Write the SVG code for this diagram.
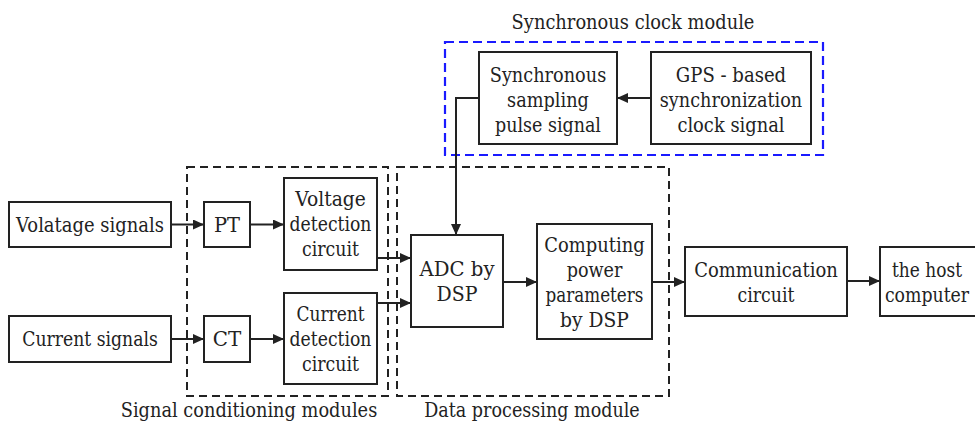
<svg xmlns="http://www.w3.org/2000/svg" width="975" height="424" viewBox="0 0 975 424">
<style>
.box{fill:#fff;stroke:#222;stroke-width:2}
.grp{fill:none;stroke:#222;stroke-width:2;stroke-dasharray:8,5}
.blue{fill:none;stroke:#1a1aff;stroke-width:2.2;stroke-dasharray:9,5}
text{font-family:"DejaVu Serif",serif;font-size:20px;fill:#222;text-anchor:middle}
.con{fill:none;stroke:#222;stroke-width:2;marker-end:url(#ah)}
</style>
<defs>
<marker id="ah" markerUnits="userSpaceOnUse" markerWidth="12" markerHeight="10" refX="11" refY="5" orient="auto">
<path d="M0,0 L11,5 L0,10 z" fill="#222"/>
</marker>
</defs>
<rect width="975" height="424" fill="#fff"/>
<g id="signal-conditioning-group">
<rect class="grp" x="187" y="167" width="201" height="229"/>
<text x="249" y="417" textLength="256.5" lengthAdjust="spacingAndGlyphs">Signal conditioning modules</text>
</g>
<g id="data-processing-group">
<rect class="grp" x="397" y="167" width="272" height="229"/>
<text x="532" y="417" textLength="215.5" lengthAdjust="spacingAndGlyphs">Data processing module</text>
</g>
<g id="sync-clock-group">
<rect class="blue" x="445" y="42" width="378" height="113"/>
<text x="633" y="29" textLength="242.8" lengthAdjust="spacingAndGlyphs">Synchronous clock module</text>
</g>
<g id="connectors">
<line class="con" x1="171" y1="224.5" x2="204" y2="224.5"/>
<line class="con" x1="250" y1="224.5" x2="284" y2="224.5"/>
<line class="con" x1="171" y1="339" x2="204" y2="339"/>
<line class="con" x1="250" y1="339" x2="284" y2="339"/>
<line class="con" x1="377" y1="258" x2="411" y2="258"/>
<line class="con" x1="377" y1="303" x2="411" y2="303"/>
<path class="con" d="M479,98 H456 V235"/>
<line class="con" x1="651" y1="98" x2="617" y2="98"/>
<line class="con" x1="503" y1="282" x2="537" y2="282"/>
<line class="con" x1="652" y1="282" x2="685" y2="282"/>
<line class="con" x1="847" y1="281" x2="880" y2="281"/>
</g>
<g id="voltage-signals">
<rect class="box" x="9" y="202" width="162" height="45"/>
<text x="90" y="232" textLength="148" lengthAdjust="spacingAndGlyphs">Volatage signals</text>
</g>
<g id="pt">
<rect class="box" x="204" y="202" width="46" height="45"/>
<text x="227" y="232" textLength="26" lengthAdjust="spacingAndGlyphs">PT</text>
</g>
<g id="voltage-detection">
<rect class="box" x="284" y="178" width="93" height="92"/>
<text x="330.5" y="206" textLength="70.6" lengthAdjust="spacingAndGlyphs">Voltage</text>
<text x="330.5" y="231" textLength="81.8" lengthAdjust="spacingAndGlyphs">detection</text>
<text x="330.5" y="256" textLength="57" lengthAdjust="spacingAndGlyphs">circuit</text>
</g>
<g id="current-signals">
<rect class="box" x="9" y="316" width="162" height="46"/>
<text x="90" y="346" textLength="135.6" lengthAdjust="spacingAndGlyphs">Current signals</text>
</g>
<g id="ct">
<rect class="box" x="204" y="316" width="46" height="46"/>
<text x="227" y="346" textLength="28.5" lengthAdjust="spacingAndGlyphs">CT</text>
</g>
<g id="current-detection">
<rect class="box" x="284" y="293" width="93" height="91"/>
<text x="330.5" y="321" textLength="68.1" lengthAdjust="spacingAndGlyphs">Current</text>
<text x="330.5" y="346" textLength="81.8" lengthAdjust="spacingAndGlyphs">detection</text>
<text x="330.5" y="371" textLength="57" lengthAdjust="spacingAndGlyphs">circuit</text>
</g>
<g id="adc">
<rect class="box" x="411" y="235" width="92" height="92"/>
<text x="457" y="276" textLength="75" lengthAdjust="spacingAndGlyphs">ADC by</text>
<text x="457" y="301" textLength="40.9" lengthAdjust="spacingAndGlyphs">DSP</text>
</g>
<g id="computing">
<rect class="box" x="537" y="224" width="115" height="115"/>
<text x="594.5" y="252" textLength="100.4" lengthAdjust="spacingAndGlyphs">Computing</text>
<text x="594.5" y="277" textLength="55.7" lengthAdjust="spacingAndGlyphs">power</text>
<text x="594.5" y="302" textLength="97.8" lengthAdjust="spacingAndGlyphs">parameters</text>
<text x="594.5" y="327" textLength="68.8" lengthAdjust="spacingAndGlyphs">by DSP</text>
</g>
<g id="communication">
<rect class="box" x="685" y="247" width="162" height="69"/>
<text x="766" y="277" textLength="143.7" lengthAdjust="spacingAndGlyphs">Communication</text>
<text x="766" y="302" textLength="57" lengthAdjust="spacingAndGlyphs">circuit</text>
</g>
<g id="host">
<rect class="box" x="880" y="247" width="97" height="69"/>
<text x="927" y="277" textLength="70" lengthAdjust="spacingAndGlyphs">the host</text>
<text x="927" y="302" textLength="84.2" lengthAdjust="spacingAndGlyphs">computer</text>
</g>
<g id="sync-sampling">
<rect class="box" x="479" y="52" width="138" height="92"/>
<text x="548" y="82" textLength="116.5" lengthAdjust="spacingAndGlyphs">Synchronous</text>
<text x="548" y="107" textLength="81.8" lengthAdjust="spacingAndGlyphs">sampling</text>
<text x="548" y="132" textLength="105.9" lengthAdjust="spacingAndGlyphs">pulse signal</text>
</g>
<g id="gps">
<rect class="box" x="651" y="52" width="160" height="92"/>
<text x="731" y="82" textLength="110.3" lengthAdjust="spacingAndGlyphs">GPS - based</text>
<text x="731" y="107" textLength="142.4" lengthAdjust="spacingAndGlyphs">synchronization</text>
<text x="731" y="132" textLength="107.2" lengthAdjust="spacingAndGlyphs">clock signal</text>
</g>
</svg>
